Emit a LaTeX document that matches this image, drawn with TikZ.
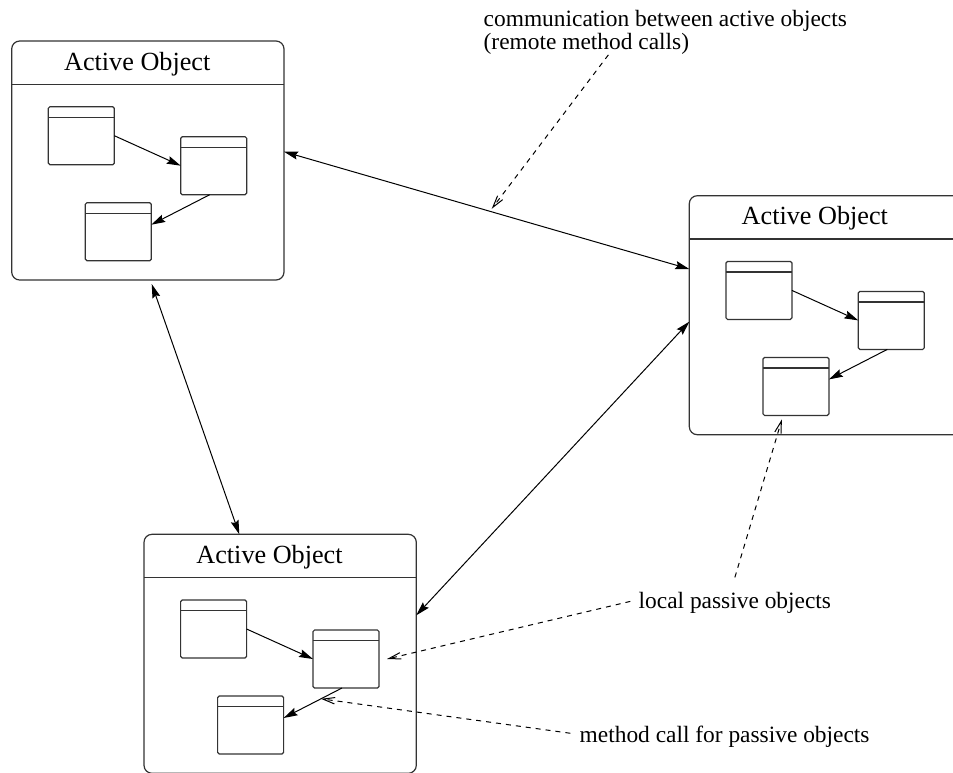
\documentclass[tikz,border=0pt]{standalone}
\usepackage{fontspec}
\setmainfont{Liberation Serif}
\usetikzlibrary{arrows.meta,calc}
\tikzset{
 abox/.style={draw=black!80, line width=0.6pt, rounded corners=4pt, minimum width=136.15pt, minimum height=119.5pt, inner sep=0pt, outer sep=0pt, anchor=north west},
 pbox/.style={draw=black!80, line width=0.6pt, rounded corners=0.8pt, minimum width=33pt, minimum height=29pt, inner sep=0pt, outer sep=0pt, anchor=north west,
   path picture={\draw[black!80, line width=0.6pt] ([yshift=-5.3pt]path picture bounding box.north west) -- ([yshift=-5.3pt]path picture bounding box.north east);}},
 ttl/.style={font=\fontsize{13.1}{15}\selectfont, anchor=base west, inner sep=0pt},
 lbl/.style={font=\fontsize{11.7}{14}\selectfont, anchor=base west, inner sep=0pt},
 inarr/.style={line width=0.5pt, -{Stealth[length=7pt,width=4pt,inset=1pt]}},
 comm/.style={line width=0.5pt, {Stealth[length=7pt,width=4pt,inset=1pt]}-{Stealth[length=7pt,width=4pt,inset=1pt]}},
 note/.style={line width=0.5pt, dash pattern=on 2.5pt off 2.5pt, -{Straight Barb[length=6pt,width=3.2pt]}},
}
\newcommand\activeobj[3]{%
 \node[abox] (#1) at (#2,#3) {};
 \draw[black!80, line width=0.6pt] ($(#1.north west)+(0,43.3)$) -- ($(#1.north east)+(0,43.3)$);
 \node[ttl] (#1t) at ($(#1.north west)+(52,29)$) {Active Object};
 \node[pbox] (#1A) at ($(#1.north west)+(36.6,65.7)$) {};
 \node[pbox] (#1B) at ($(#1.north west)+(169,95.7)$) {};
 \node[pbox] (#1C) at ($(#1.north west)+(73.6,161.7)$) {};
 \coordinate (#1p) at ($(#1B.south)+(-4,0)$);
 \coordinate (#1q) at ($(#1C.east)+(0,-7)$);
 \draw[inarr] (#1A.east) -- (#1B.west);
 \draw[inarr] (#1p) -- (#1q);
}
\begin{document}
\begin{tikzpicture}[x=0.5pt, y=-0.5pt]
\useasboundingbox (0,0) rectangle (953,772);
\clip (0,0) rectangle (953,772);
\activeobj{tl}{11.7}{41}
\activeobj{r}{689.3}{195.7}
\activeobj{b}{144}{534.3}
% communication arrows
\coordinate (c1a) at ($(tl.north east)+(0,110.7)$);
\coordinate (c1b) at ($(r.north west)+(0,73.3)$);
\draw[comm] (c1a) -- (c1b);
\coordinate (c2a) at ($(tl.south west)+(140,4)$);
\coordinate (c2b) at ($(b.north west)+(95.3,0)$);
\draw[comm] (c2a) -- (c2b);
\coordinate (c3a) at ($(r.north west)+(0,126)$);
\coordinate (c3b) at ($(b.north east)+(0,81)$);
\draw[comm] (c3a) -- (c3b);
% labels
\node[lbl] (comm1) at (483.3,26.7) {communication between active objects};
\node[lbl] (comm2) at (483.3,49.5) {(remote method calls)};
\node[lbl] (lp) at (638.3,608) {local passive objects};
\node[lbl] (mc) at (579.3,742) {method call for passive objects};
% dashed notes
\coordinate (ca) at ($(c1a)!0.5125!(c1b)+(0,-3)$);
\draw[note] ($(comm2.south)+(22,0)$) -- (ca);
\draw[note] ($(lp.north)+(0,-14)$) -- ($(rC.south)+(-14,4)$);
\draw[note] ($(lp.west)+(-8,-1)$) -- ($(bB.east)+(8,0)$);
\coordinate (cm) at ($(bp)!0.36!(bq)$);
\draw[note] ($(mc.west)+(-9,-3)$) -- (cm);
\end{tikzpicture}
\end{document}
